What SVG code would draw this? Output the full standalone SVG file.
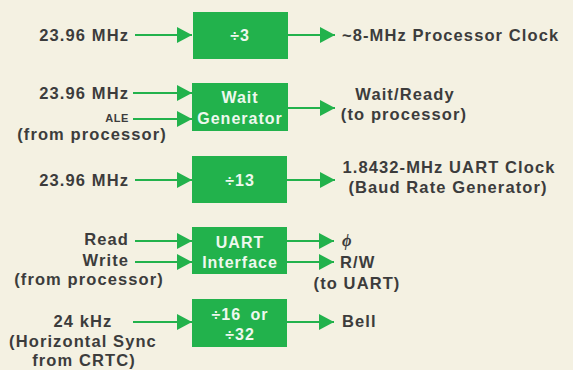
<svg xmlns="http://www.w3.org/2000/svg" width="573" height="370" viewBox="0 0 573 370">
<defs>
<style>
.bg{fill:#f4f1e2}
.box{fill:#22b24c}
.lbl{font-family:"Liberation Sans",Arial,sans-serif;font-weight:bold;font-size:16.5px;fill:#3c3c3c;letter-spacing:1.1px}
.sm{font-size:11px;letter-spacing:0.6px}
.bt{font-family:"Liberation Sans",Arial,sans-serif;font-weight:bold;font-size:16px;fill:#eef8ee;letter-spacing:1px;text-anchor:middle}
.end{text-anchor:end}
.mid{text-anchor:middle}
.ln{stroke:#22b24c;stroke-width:2;fill:none}
.hd{fill:#22b24c}
</style>
<marker id="ah" markerWidth="16" markerHeight="16" refX="15" refY="8" orient="auto" markerUnits="userSpaceOnUse">
<path d="M0,0 L15,8 L0,16 Z" class="hd"/>
</marker>
</defs>
<rect class="bg" x="0" y="0" width="573" height="370"/>

<g id="connectors">
<line class="ln" x1="135" y1="35" x2="192" y2="35" marker-end="url(#ah)"/>
<line class="ln" x1="288" y1="35" x2="335" y2="35" marker-end="url(#ah)"/>
<line class="ln" x1="133" y1="93" x2="192" y2="93" marker-end="url(#ah)"/>
<line class="ln" x1="133" y1="119" x2="192" y2="119" marker-end="url(#ah)"/>
<line class="ln" x1="288" y1="108" x2="335" y2="108" marker-end="url(#ah)"/>
<line class="ln" x1="135" y1="180" x2="192" y2="180" marker-end="url(#ah)"/>
<line class="ln" x1="287" y1="180" x2="335" y2="180" marker-end="url(#ah)"/>
<line class="ln" x1="135" y1="241" x2="192" y2="241" marker-end="url(#ah)"/>
<line class="ln" x1="135" y1="262" x2="192" y2="262" marker-end="url(#ah)"/>
<line class="ln" x1="287" y1="241" x2="334" y2="241" marker-end="url(#ah)"/>
<line class="ln" x1="287" y1="262" x2="334" y2="262" marker-end="url(#ah)"/>
<line class="ln" x1="133" y1="322" x2="192" y2="322" marker-end="url(#ah)"/>
<line class="ln" x1="287" y1="322" x2="334" y2="322" marker-end="url(#ah)"/>
</g>

<g id="div3">
<rect class="box" x="193" y="12" width="95" height="47"/>
<text class="bt" x="240" y="41">÷3</text>
</g>
<g id="waitgen">
<rect class="box" x="192" y="83" width="96" height="48"/>
<text class="bt" x="240" y="103">Wait</text>
<text class="bt" x="240" y="124">Generator</text>
</g>
<g id="div13">
<rect class="box" x="192" y="156" width="95" height="47"/>
<text class="bt" x="240" y="186">÷13</text>
</g>
<g id="uartif">
<rect class="box" x="192" y="227" width="95" height="47"/>
<text class="bt" x="240" y="248">UART</text>
<text class="bt" x="240" y="268">Interface</text>
</g>
<g id="div16">
<rect class="box" x="192" y="299" width="95" height="48"/>
<text class="bt" x="240" y="320" style="word-spacing:4px">÷16 or</text>
<text class="bt" x="240" y="340">÷32</text>
</g>

<g id="labels">
<text class="lbl end" x="129" y="41">23.96 MHz</text>
<text class="lbl" x="342" y="41">~8-MHz Processor Clock</text>

<text class="lbl end" x="129" y="99">23.96 MHz</text>
<text class="lbl sm end" x="129" y="122">ALE</text>
<text class="lbl mid" x="92" y="140">(from processor)</text>
<text class="lbl mid" x="405" y="100">Wait/Ready</text>
<text class="lbl mid" x="404" y="120">(to processor)</text>

<text class="lbl end" x="129" y="186">23.96 MHz</text>
<text class="lbl mid" x="449" y="173">1.8432-MHz UART Clock</text>
<text class="lbl mid" x="448" y="193">(Baud Rate Generator)</text>

<text class="lbl end" x="129" y="245">Read</text>
<text class="lbl end" x="129" y="266">Write</text>
<text class="lbl mid" x="89" y="285">(from processor)</text>
<text class="lbl" x="342" y="246" style="font-family:'Liberation Serif',serif;font-style:italic">ϕ</text>
<text class="lbl" x="340" y="268">R/W</text>
<text class="lbl mid" x="357" y="289">(to UART)</text>

<text class="lbl mid" x="83" y="327">24 kHz</text>
<text class="lbl mid" x="83" y="347">(Horizontal Sync</text>
<text class="lbl mid" x="84" y="366">from CRTC)</text>
<text class="lbl" x="342" y="327">Bell</text>
</g>
</svg>
